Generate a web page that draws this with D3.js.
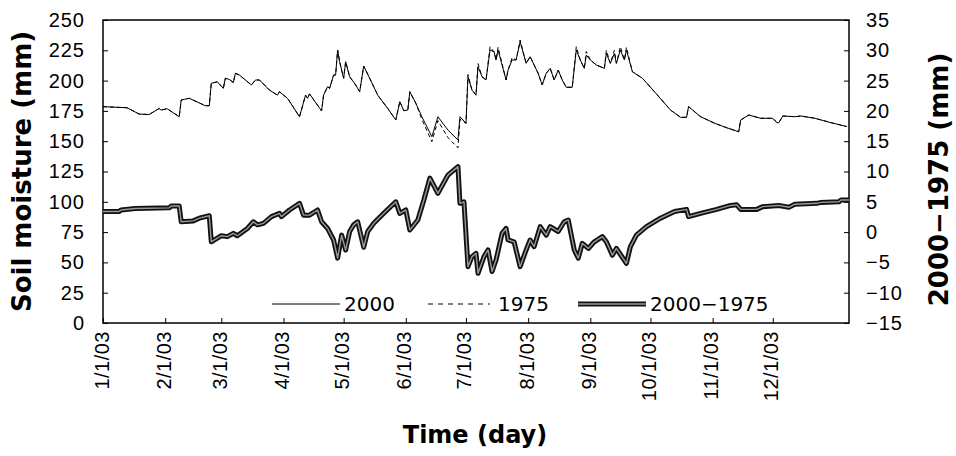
<!DOCTYPE html>
<html>
<head>
<meta charset="utf-8">
<script src="https://cdn.jsdelivr.net/npm/d3@7"></script>
<style>
  body { margin: 0; background: #fff; }
  svg { display: block; font-family: "DejaVu Sans", sans-serif; }
  .axis line { stroke: #000; }
</style>
</head>
<body>
<svg id="chart"></svg>
<script>
// day offsets from 1/1/03 for the two soil moisture series
const days = [0,12,18,23,28,29,32,38,39,43,51,53,54,57,60,61,63,65,66,68,74,76,78,83,87,88,92,98,101,102,103,109,110,112,113,115,116,117,118,120,121,123,126,128,130,133,137,142,146,148,150,152,153,156,159,164,167,172,177,178,181,182,184,186,187,189,191,193,195,196,197,201,202,204,206,208,211,213,217,219,221,223,225,227,229,231,234,236,238,240,241,243,246,250,251,253,255,256,258,260,261,264,269,275,283,288,291,292,298,305,311,317,318,322,328,334,336,337,339,345,348,355,363,371];

const sm2000 = [178.5,177.6,172.4,172,177,175.7,176.8,170.2,184,185.4,179.3,179.3,197.8,199,193.6,201.9,201,198.3,206,204.6,196.4,200.5,200.5,192.2,188,190.8,185.4,170.2,188,185.4,189,175,188,195,193.6,204.6,204.6,225.2,215.6,201.9,215.6,203.2,196.4,190.8,212,201.9,188,177,167.5,182.6,175.2,175.7,190.8,181.3,170.2,153.7,170.2,159.2,151,170.2,164.8,203.2,192.2,188,211.5,203.2,200.5,225.2,223.8,217,225.2,200.5,208.7,217,217,232,214.3,219.7,206,196.4,206,210.1,200.5,208.7,200.5,194.5,194.5,225.2,217,210.1,221.1,217,212.9,210.1,222.4,214.3,222.4,214.3,225.2,217,225.2,207.3,201.9,190.8,175.7,169.7,169.7,178.5,170.2,164.8,161.1,157.8,167.5,171.6,168.9,168.9,165.3,165.3,170.8,170.2,170.8,168.9,165.3,162];

const sm1975 = [178.5,177.6,172.4,172,177,175.7,176.8,170.2,184,185.4,179.3,179.3,197.8,199,193.6,201.9,201,198.3,206,204.6,196.4,200.5,200.5,192.2,188,190.8,185.4,170.2,188,185.4,189,175,188,195,193.6,204.6,204.6,225.2,215.6,201.9,215.6,203.2,196.4,190.8,212,201.9,188,177,167.5,182.6,175.2,175.7,190.8,181.3,168,149.6,167,153,144.5,168,164.8,205,192.2,188,214,203.2,200.5,228,223.8,217,227.5,200.5,208.7,219,217,233.5,214.3,219.7,206,196.4,206,210.1,200.5,208.7,200.5,194.5,194.5,228,217,210.1,224,217,212.9,210.1,225,214.3,225,214.3,228,217,227.5,207.3,201.9,190.8,175.7,169.7,169.7,178.5,170.2,164.8,161.1,157.8,167.5,171.6,168.9,168.9,165.3,165.3,170.8,170.2,170.8,168.9,165.3,162];

// 2000-1975 difference (right axis)
const diffDays = [0,8,9,16,33,34,38,39,45,48,53,54,57,59,62,65,67,72,75,77,80,84,88,89,93,98,100,103,107,109,112,115,117,119,121,123,125,127,130,132,135,140,146,148,151,153,157,160,163,167,172,177,178,180,182,184,186,187,190,192,194,196,199,201,202,205,208,211,213,215,218,221,223,227,230,232,235,237,239,242,245,249,251,254,256,261,263,266,271,278,285,291,292,298,306,313,316,318,326,329,337,342,345,356,358,367,368,372];
const diffVals = [3.4,3.4,3.65,3.9,4.0,4.3,4.3,1.7,1.85,2.3,2.7,-1.6,-1.0,-0.6,-0.75,-0.2,-0.6,0.6,1.7,1.2,1.45,2.55,3.1,2.55,3.65,4.75,2.8,2.8,3.65,1.7,0.6,-1.3,-4.3,-0.5,-2.95,0.1,1.2,1.7,-2.5,0.1,1.45,3.1,5.0,3.1,3.65,0.35,2.0,5.3,8.9,6.4,9.4,10.8,4.75,5.0,-5.7,-4.05,-3.5,-6.8,-4.05,-2.95,-6.5,-4.6,-0.2,0.6,-1.3,-1.6,-5.7,-2.95,-1.3,-2.4,0.9,-0.5,0.9,0.1,1.7,2.0,-2.95,-4.3,-1.85,-2.7,-1.6,-0.75,-1.6,-3.8,-2.7,-5.15,-2.4,-0.5,0.9,2.3,3.4,3.75,2.55,3.1,3.75,4.4,4.5,3.75,3.75,4.2,4.4,4.1,4.6,4.75,4.9,5.0,5.3,5.3];

const xTickLabels = ["1/1/03","2/1/03","3/1/03","4/1/03","5/1/03","6/1/03","7/1/03","8/1/03","9/1/03","10/1/03","11/1/03","12/1/03"];
const leftTicks = [0,25,50,75,100,125,150,175,200,225,250];
const rightTicks = [-15,-10,-5,0,5,10,15,20,25,30,35];
const legendLabels = ["2000", "1975", "2000\u22121975"];

const W = 956, H = 456;
const margin = {left: 103, top: 20, right: 107, bottom: 133};
const width = W - margin.left - margin.right;
const height = H - margin.top - margin.bottom;

const start = new Date(2003, 0, 1);
const toDate = d => d3.timeDay.offset(start, d);
const parseTick = d3.timeParse("%m/%d/%y");

const svg = d3.select('#chart').attr('width', W).attr('height', H);
svg.append('rect').attr('width', W).attr('height', H).attr('fill', '#fff');

const chart = svg.append('g').attr('transform', `translate(${margin.left}, ${margin.top})`);

const x = d3.scaleTime().domain([start, new Date(2004, 0, 8)]).range([0, width]);
const yL = d3.scaleLinear().domain([0, 250]).range([height, 0]);
const yR = d3.scaleLinear().domain([-15, 35]).range([height, 0]);

const tickText = g => g.selectAll('text')
  .style('font-size', '20px').style('letter-spacing', '1px').attr('fill', '#000');

// axes (ticks point inward)
chart.append('g').attr('class', 'axis')
  .call(d3.axisLeft(yL).tickValues(leftTicks).tickSize(-5).tickPadding(18))
  .call(g => g.select('.domain').remove())
  .call(tickText);

chart.append('g').attr('class', 'axis')
  .attr('transform', `translate(${width}, 0)`)
  .call(d3.axisRight(yR).tickValues(rightTicks).tickSize(-5).tickPadding(17)
    .tickFormat(d => d < 0 ? '\u2212' + Math.abs(d) : d))
  .call(g => g.select('.domain').remove())
  .call(tickText);

chart.append('g').attr('class', 'axis')
  .attr('transform', `translate(0, ${height})`)
  .call(d3.axisBottom(x).tickValues(xTickLabels.map(parseTick)).tickSize(-5)
    .tickFormat((d, i) => xTickLabels[i]))
  .call(g => g.select('.domain').remove())
  .call(tickText)
  .call(g => g.selectAll('text')
    .style('letter-spacing', '0.5px')
    .attr('transform', 'rotate(-90)')
    .attr('x', -8).attr('y', -2).attr('dy', '0.35em')
    .attr('text-anchor', 'end'));

// frame
chart.append('rect')
  .attr('width', width).attr('height', height)
  .attr('fill', 'none').attr('stroke', '#000').attr('stroke-width', 1.5);

const lineL = d3.line().x(d => x(toDate(d[0]))).y(d => yL(d[1]));
const lineR = d3.line().x(d => x(toDate(d[0]))).y(d => yR(d[1]));

const diffData = d3.zip(diffDays, diffVals);
chart.append('path').datum(diffData)
  .attr('d', lineR).attr('fill', 'none')
  .attr('stroke', '#111').attr('stroke-width', 5).attr('stroke-linejoin', 'round');
chart.append('path').datum(diffData)
  .attr('d', lineR).attr('fill', 'none')
  .attr('stroke', '#999').attr('stroke-width', 1.4).attr('stroke-linejoin', 'round');

chart.append('path').datum(d3.zip(days, sm1975))
  .attr('d', lineL).attr('fill', 'none')
  .attr('stroke', '#000').attr('stroke-width', 1).attr('stroke-dasharray', '4,3');

chart.append('path').datum(d3.zip(days, sm2000))
  .attr('d', lineL).attr('fill', 'none')
  .attr('stroke', '#000').attr('stroke-width', 1);

// legend
const legendX = [169, 325, 475];
const legendY = 304 - margin.top;
const leg = chart.selectAll('.leg').data(legendLabels).enter().append('g')
  .attr('class', 'leg')
  .attr('transform', (d, i) => `translate(${legendX[i]}, ${legendY})`);

leg.each(function (d, i) {
  const g = d3.select(this);
  const len = i === 1 ? 62 : 68;
  if (i === 2) {
    g.append('line').attr('x1', 0).attr('x2', len).attr('stroke', '#111').attr('stroke-width', 5);
    g.append('line').attr('x1', 0).attr('x2', len).attr('stroke', '#999').attr('stroke-width', 1.4);
  } else {
    g.append('line').attr('x1', 0).attr('x2', len).attr('stroke', '#000').attr('stroke-width', 1)
      .attr('stroke-dasharray', i === 1 ? '5,5' : null);
  }
  g.append('text').attr('x', len + (i === 1 ? 8 : 4)).attr('dy', '0.36em')
    .attr('font-size', 20).text(d);
});

// axis titles
svg.append('text')
  .attr('transform', `translate(31, ${margin.top + height / 2}) rotate(-90)`)
  .attr('text-anchor', 'middle')
  .attr('font-size', 26).attr('font-weight', 'bold')
  .text('Soil moisture (mm)');

svg.append('text')
  .attr('transform', `translate(948, ${margin.top + height / 2 + 8}) rotate(-90)`)
  .attr('text-anchor', 'middle')
  .attr('font-size', 26).attr('font-weight', 'bold')
  .text('2000\u22121975 (mm)');

svg.append('text')
  .attr('x', 475).attr('y', 443)
  .attr('text-anchor', 'middle')
  .attr('font-size', 24).attr('font-weight', 'bold')
  .text('Time (day)');
</script>
</body>
</html>
